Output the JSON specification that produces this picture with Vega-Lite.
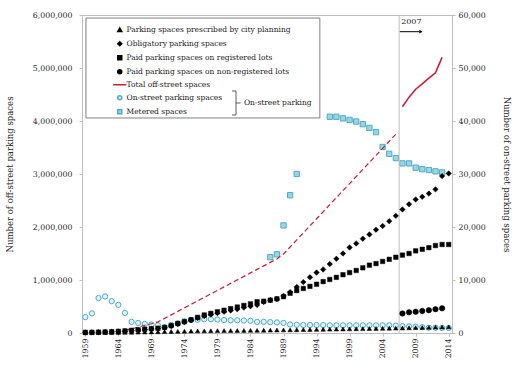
{
  "$schema": "https://vega.github.io/schema/vega-lite/v6.json",
  "width": 370,
  "height": 318,
  "autosize": {"type": "none"},
  "padding": {"left": 82, "top": 15, "right": 63, "bottom": 34},
  "background": "white",
  "config": {
    "font": "DejaVu Serif",
    "view": {"stroke": "#BFBFBF", "strokeWidth": 1},
    "axis": {"grid": false, "labelFont": "DejaVu Serif", "labelFontSize": 7.8, "labelColor": "#262626", "titleFont": "DejaVu Serif", "titleFontSize": 8.5, "titleFontWeight": "normal", "titleColor": "#262626", "domainColor": "#BFBFBF", "tickColor": "#BFBFBF", "tickSize": 3, "labelOverlap": false},
    "legend": {"orient": "none", "legendX": 34, "legendY": 11, "padding": 0, "rowPadding": 3, "labelFont": "DejaVu Serif", "labelFontSize": 7.5, "labelColor": "#1a1a1a", "labelOffset": 3, "symbolSize": 16, "labelLimit": 300}
  },
  "data": {"values": [
    {"year":1959,"prescribed":5000,"obligatory":10000,"registered":12000,"onstreet":3000},
    {"year":1960,"prescribed":6000,"obligatory":12000,"registered":14000,"onstreet":3700},
    {"year":1961,"prescribed":7000,"obligatory":15000,"registered":17000,"onstreet":6600},
    {"year":1962,"prescribed":8000,"obligatory":18000,"registered":20000,"onstreet":6900},
    {"year":1963,"prescribed":9000,"obligatory":22000,"registered":25000,"onstreet":6000},
    {"year":1964,"prescribed":10000,"obligatory":28000,"registered":32000,"onstreet":5300},
    {"year":1965,"prescribed":12000,"obligatory":35000,"registered":40000,"total":50000,"onstreet":3800},
    {"year":1966,"prescribed":14000,"obligatory":45000,"registered":50000,"total":80000,"onstreet":2100},
    {"year":1967,"prescribed":16000,"obligatory":55000,"registered":60000,"total":110000,"onstreet":1900},
    {"year":1968,"prescribed":18000,"obligatory":65000,"registered":70000,"total":145000,"onstreet":1700},
    {"year":1969,"prescribed":20000,"obligatory":75000,"registered":80000,"total":175000,"onstreet":1600},
    {"year":1970,"prescribed":22000,"obligatory":85000,"registered":90000,"total":210000,"onstreet":1450},
    {"year":1971,"prescribed":25000,"obligatory":100000,"registered":105000,"total":276000,"onstreet":1100},
    {"year":1972,"prescribed":28000,"obligatory":130000,"registered":140000,"total":342000,"onstreet":1500},
    {"year":1973,"prescribed":31000,"obligatory":170000,"registered":180000,"total":408000,"onstreet":1800},
    {"year":1974,"prescribed":34000,"obligatory":205000,"registered":215000,"total":474000,"onstreet":2200},
    {"year":1975,"prescribed":37000,"obligatory":240000,"registered":250000,"total":540000,"onstreet":2450},
    {"year":1976,"prescribed":39000,"obligatory":285000,"registered":295000,"total":606000,"onstreet":2500},
    {"year":1977,"prescribed":41000,"obligatory":320000,"registered":340000,"total":672000,"onstreet":2600},
    {"year":1978,"prescribed":43000,"obligatory":350000,"registered":370000,"total":738000,"onstreet":2600},
    {"year":1979,"prescribed":44000,"obligatory":375000,"registered":400000,"total":804000,"onstreet":2550},
    {"year":1980,"prescribed":45000,"obligatory":400000,"registered":430000,"total":870000,"onstreet":2450},
    {"year":1981,"prescribed":46000,"obligatory":425000,"registered":460000,"total":936000,"onstreet":2400},
    {"year":1982,"prescribed":47000,"obligatory":450000,"registered":490000,"total":1002000,"onstreet":2400},
    {"year":1983,"prescribed":48000,"obligatory":480000,"registered":520000,"total":1068000,"onstreet":2350},
    {"year":1984,"prescribed":49000,"obligatory":505000,"registered":550000,"total":1134000,"onstreet":2300},
    {"year":1985,"prescribed":50000,"obligatory":530000,"registered":590000,"total":1200000,"onstreet":2100},
    {"year":1986,"prescribed":52000,"obligatory":585000,"registered":600000,"total":1266000,"onstreet":2100},
    {"year":1987,"prescribed":54000,"obligatory":620000,"registered":620000,"total":1332000,"onstreet":2050,"metered":14300},
    {"year":1988,"prescribed":56000,"obligatory":640000,"registered":645000,"total":1398000,"onstreet":2000,"metered":14850},
    {"year":1989,"prescribed":58000,"obligatory":700000,"registered":685000,"total":1490000,"onstreet":1900,"metered":20300},
    {"year":1990,"prescribed":60000,"obligatory":770000,"registered":750000,"total":1623000,"onstreet":1600,"metered":26000},
    {"year":1991,"prescribed":62000,"obligatory":870000,"registered":800000,"total":1756000,"onstreet":1550,"metered":30000},
    {"year":1992,"prescribed":64000,"obligatory":960000,"registered":840000,"total":1889000,"onstreet":1500},
    {"year":1993,"prescribed":66000,"obligatory":1050000,"registered":880000,"total":2022000,"onstreet":1500},
    {"year":1994,"prescribed":68000,"obligatory":1140000,"registered":920000,"total":2155000,"onstreet":1500},
    {"year":1995,"prescribed":70000,"obligatory":1200000,"registered":970000,"total":2288000,"onstreet":1500},
    {"year":1996,"prescribed":72000,"obligatory":1300000,"registered":1010000,"total":2421000,"onstreet":1450,"metered":40800},
    {"year":1997,"prescribed":74000,"obligatory":1400000,"registered":1050000,"total":2554000,"onstreet":1450,"metered":40800},
    {"year":1998,"prescribed":76000,"obligatory":1500000,"registered":1100000,"total":2687000,"onstreet":1450,"metered":40500},
    {"year":1999,"prescribed":78000,"obligatory":1615000,"registered":1140000,"total":2820000,"onstreet":1450,"metered":40200},
    {"year":2000,"prescribed":80000,"obligatory":1690000,"registered":1180000,"total":2953000,"onstreet":1450,"metered":39900},
    {"year":2001,"prescribed":82000,"obligatory":1780000,"registered":1230000,"total":3086000,"onstreet":1450,"metered":39400},
    {"year":2002,"prescribed":84000,"obligatory":1860000,"registered":1280000,"total":3219000,"onstreet":1450,"metered":38700},
    {"year":2003,"prescribed":86000,"obligatory":1950000,"registered":1310000,"total":3352000,"onstreet":1450,"metered":37900},
    {"year":2004,"prescribed":88000,"obligatory":2020000,"registered":1350000,"total":3485000,"onstreet":1450,"metered":35100},
    {"year":2005,"prescribed":90000,"obligatory":2110000,"registered":1390000,"total":3618000,"onstreet":1450,"metered":33800},
    {"year":2006,"prescribed":92000,"obligatory":2210000,"registered":1430000,"total":3750000,"onstreet":1400,"metered":33000},
    {"year":2007,"prescribed":95000,"obligatory":2330000,"registered":1470000,"nonregistered":370000,"total":4270000,"onstreet":1300,"metered":32000},
    {"year":2008,"prescribed":98000,"obligatory":2430000,"registered":1500000,"nonregistered":390000,"total":4450000,"onstreet":1250,"metered":32000},
    {"year":2009,"prescribed":101000,"obligatory":2520000,"registered":1550000,"nonregistered":400000,"total":4600000,"onstreet":1200,"metered":31200},
    {"year":2010,"prescribed":104000,"obligatory":2570000,"registered":1580000,"nonregistered":415000,"total":4700000,"onstreet":1100,"metered":30900},
    {"year":2011,"prescribed":107000,"obligatory":2630000,"registered":1610000,"nonregistered":430000,"total":4810000,"onstreet":1000,"metered":30750},
    {"year":2012,"prescribed":110000,"obligatory":2710000,"registered":1650000,"nonregistered":450000,"total":4910000,"onstreet":1000,"metered":30500},
    {"year":2013,"prescribed":113000,"obligatory":2960000,"registered":1670000,"nonregistered":465000,"total":5200000,"onstreet":950,"metered":30300},
    {"year":2014,"prescribed":116000,"obligatory":3010000,"registered":1670000,"onstreet":950}
  ]},
  "layer": [
    {
      "layer": [
        {
          "transform": [{"fold": ["onstreet", "metered"], "as": ["series", "value"]}, {"filter": "isValid(datum.value)"}],
          "mark": {"type": "point", "opacity": 1, "strokeWidth": 1, "size": 28},
          "encoding": {
            "x": {"field": "year", "type": "quantitative", "scale": {"domain": [1958.5, 2014.5], "nice": false, "zero": false}, "axis": {"values": [1959,1964,1969,1974,1979,1984,1989,1994,1999,2004,2009,2014], "format": "d", "labelAngle": -90, "title": null, "labelPadding": 2, "labelOverlap": false}},
            "y": {"field": "value", "type": "quantitative", "scale": {"domain": [0, 60000], "nice": false}, "axis": {"orient": "right", "values": [0,10000,20000,30000,40000,50000,60000], "format": ",d", "title": "Number of on-street parking spaces", "labelPadding": 3, "titlePadding": 16}},
            "shape": {"field": "series", "type": "nominal", "title": null, "scale": {"domain": ["prescribed","obligatory","registered","nonregistered","total","onstreet","metered"], "range": ["triangle-up","diamond","square","circle","M-3.3,0H3.3","circle","square"]}},
            "fill": {"field": "series", "type": "nominal", "title": null, "scale": {"domain": ["prescribed","obligatory","registered","nonregistered","total","onstreet","metered"], "range": ["#000000","#000000","#000000","#000000","transparent","#E4F1F5","#9ED3DF"]}},
            "stroke": {"field": "series", "type": "nominal", "title": null, "scale": {"domain": ["prescribed","obligatory","registered","nonregistered","total","onstreet","metered"], "range": ["#000000","#000000","#000000","#000000","#C8203A","#4BACC6","#4BACC6"]},
              "legend": {"labelExpr": "{'prescribed':'Parking spaces prescribed by city planning','obligatory':'Obligatory parking spaces','registered':'Paid parking spaces on registered lots','nonregistered':'Paid parking spaces on non-registered lots','total':'Total off-street spaces','onstreet':'On-street parking spaces','metered':'Metered spaces'}[datum.label]",
                "encoding": {"symbols": {"update": {"strokeWidth": {"signal": "datum.value === 'total' ? 2 : 1"}, "opacity": {"value": 1}}}}}}
          }
        }
      ]
    },
    {
      "layer": [
        {
          "data": {"values": [{}]},
          "mark": {"type": "rect", "fill": "white", "stroke": "#808080", "strokeWidth": 1},
          "encoding": {
            "x": {"datum": 1959.1, "type": "quantitative", "axis": {"values": [1959,1964,1969,1974,1979,1984,1989,1994,1999,2004,2009,2014], "format": "d", "labelAngle": -90, "title": null, "labelPadding": 2, "labelOverlap": false}},
            "x2": {"datum": 1994.5},
            "y": {"datum": 5943000, "type": "quantitative"},
            "y2": {"datum": 4057000}
          }
        },
        {
          "data": {"values": [{}]},
          "mark": {"type": "rule", "stroke": "#BFBFBF", "strokeWidth": 1},
          "encoding": {"x": {"datum": 2006.5, "type": "quantitative", "axis": {"values": [1959,1964,1969,1974,1979,1984,1989,1994,1999,2004,2009,2014], "format": "d", "labelAngle": -90, "title": null, "labelPadding": 2, "labelOverlap": false}}}
        },
        {
          "data": {"values": [{}]},
          "mark": {"type": "rule", "stroke": "#000000", "strokeWidth": 1},
          "encoding": {"x": {"datum": 2006.6, "type": "quantitative", "axis": {"values": [1959,1964,1969,1974,1979,1984,1989,1994,1999,2004,2009,2014], "format": "d", "labelAngle": -90, "title": null, "labelPadding": 2, "labelOverlap": false}}, "x2": {"datum": 2009.6}, "y": {"datum": 5685000, "type": "quantitative"}}
        },
        {
          "data": {"values": [{}]},
          "mark": {"type": "point", "shape": "triangle-right", "filled": true, "fill": "#000000", "opacity": 1, "size": 14},
          "encoding": {"x": {"datum": 2009.8, "type": "quantitative", "axis": {"values": [1959,1964,1969,1974,1979,1984,1989,1994,1999,2004,2009,2014], "format": "d", "labelAngle": -90, "title": null, "labelPadding": 2, "labelOverlap": false}}, "y": {"datum": 5685000, "type": "quantitative"}}
        },
        {
          "data": {"values": [{}]},
          "mark": {"type": "text", "text": "2007", "align": "left", "baseline": "middle", "fontSize": 8, "font": "DejaVu Serif", "color": "#1a1a1a"},
          "encoding": {"x": {"datum": 2006.8, "type": "quantitative", "axis": {"values": [1959,1964,1969,1974,1979,1984,1989,1994,1999,2004,2009,2014], "format": "d", "labelAngle": -90, "title": null, "labelPadding": 2, "labelOverlap": false}}, "y": {"datum": 5862000, "type": "quantitative"}}
        },
        {
          "data": {"values": [{}]},
          "mark": {"type": "rule", "stroke": "#333333", "strokeWidth": 0.8},
          "encoding": {"x": {"datum": 1981.2, "type": "quantitative", "axis": {"values": [1959,1964,1969,1974,1979,1984,1989,1994,1999,2004,2009,2014], "format": "d", "labelAngle": -90, "title": null, "labelPadding": 2, "labelOverlap": false}}, "x2": {"datum": 1981.81}, "y": {"datum": 4566000, "type": "quantitative"}}
        },
        {
          "data": {"values": [{}]},
          "mark": {"type": "rule", "stroke": "#333333", "strokeWidth": 0.8},
          "encoding": {"x": {"datum": 1981.81, "type": "quantitative", "axis": {"values": [1959,1964,1969,1974,1979,1984,1989,1994,1999,2004,2009,2014], "format": "d", "labelAngle": -90, "title": null, "labelPadding": 2, "labelOverlap": false}}, "y": {"datum": 4566000, "type": "quantitative"}, "y2": {"datum": 4113000}}
        },
        {
          "data": {"values": [{}]},
          "mark": {"type": "rule", "stroke": "#333333", "strokeWidth": 0.8},
          "encoding": {"x": {"datum": 1981.2, "type": "quantitative", "axis": {"values": [1959,1964,1969,1974,1979,1984,1989,1994,1999,2004,2009,2014], "format": "d", "labelAngle": -90, "title": null, "labelPadding": 2, "labelOverlap": false}}, "x2": {"datum": 1981.81}, "y": {"datum": 4113000, "type": "quantitative"}}
        },
        {
          "data": {"values": [{}]},
          "mark": {"type": "rule", "stroke": "#333333", "strokeWidth": 0.8},
          "encoding": {"x": {"datum": 1981.81, "type": "quantitative", "axis": {"values": [1959,1964,1969,1974,1979,1984,1989,1994,1999,2004,2009,2014], "format": "d", "labelAngle": -90, "title": null, "labelPadding": 2, "labelOverlap": false}}, "x2": {"datum": 1982.5}, "y": {"datum": 4340000, "type": "quantitative"}}
        },
        {
          "data": {"values": [{}]},
          "mark": {"type": "text", "text": "On-street parking", "align": "left", "baseline": "middle", "fontSize": 7.5, "font": "DejaVu Serif", "color": "#1a1a1a"},
          "encoding": {"x": {"datum": 1983.0, "type": "quantitative", "axis": {"values": [1959,1964,1969,1974,1979,1984,1989,1994,1999,2004,2009,2014], "format": "d", "labelAngle": -90, "title": null, "labelPadding": 2, "labelOverlap": false}}, "y": {"datum": 4340000, "type": "quantitative"}}
        },
        {
          "transform": [{"fold": ["total"], "as": ["series", "value"]}, {"filter": "isValid(datum.value) && datum.year <= 2006"}],
          "mark": {"type": "line", "strokeWidth": 1.2, "strokeDash": [5, 3]},
          "encoding": {
            "x": {"field": "year", "type": "quantitative", "axis": {"values": [1959,1964,1969,1974,1979,1984,1989,1994,1999,2004,2009,2014], "format": "d", "labelAngle": -90, "title": null, "labelPadding": 2, "labelOverlap": false}},
            "y": {"field": "value", "type": "quantitative", "scale": {"domain": [0, 6000000], "nice": false}, "axis": {"orient": "left", "values": [0,1000000,2000000,3000000,4000000,5000000,6000000], "format": ",d", "title": "Number of off-street parking spaces", "labelPadding": 7, "titlePadding": 18}},
            "stroke": {"field": "series", "type": "nominal", "title": null}
          }
        },
        {
          "transform": [{"fold": ["total"], "as": ["series", "value"]}, {"filter": "isValid(datum.value) && datum.year >= 2007"}],
          "mark": {"type": "line", "strokeWidth": 1.6},
          "encoding": {
            "x": {"field": "year", "type": "quantitative", "axis": {"values": [1959,1964,1969,1974,1979,1984,1989,1994,1999,2004,2009,2014], "format": "d", "labelAngle": -90, "title": null, "labelPadding": 2, "labelOverlap": false}},
            "y": {"field": "value", "type": "quantitative"},
            "stroke": {"field": "series", "type": "nominal", "title": null}
          }
        },
        {
          "transform": [{"fold": ["prescribed", "registered"], "as": ["series", "value"]}, {"filter": "isValid(datum.value)"}],
          "mark": {"type": "point", "opacity": 1, "strokeWidth": 0.5, "size": 20},
          "encoding": {
            "x": {"field": "year", "type": "quantitative", "axis": {"values": [1959,1964,1969,1974,1979,1984,1989,1994,1999,2004,2009,2014], "format": "d", "labelAngle": -90, "title": null, "labelPadding": 2, "labelOverlap": false}},
            "y": {"field": "value", "type": "quantitative"},
            "shape": {"field": "series", "type": "nominal", "title": null},
            "fill": {"field": "series", "type": "nominal", "title": null},
            "stroke": {"field": "series", "type": "nominal", "title": null}
          }
        },
        {
          "transform": [{"fold": ["obligatory", "nonregistered"], "as": ["series", "value"]}, {"filter": "isValid(datum.value)"}],
          "mark": {"type": "point", "opacity": 1, "strokeWidth": 0.5, "size": 30},
          "encoding": {
            "x": {"field": "year", "type": "quantitative", "axis": {"values": [1959,1964,1969,1974,1979,1984,1989,1994,1999,2004,2009,2014], "format": "d", "labelAngle": -90, "title": null, "labelPadding": 2, "labelOverlap": false}},
            "y": {"field": "value", "type": "quantitative"},
            "shape": {"field": "series", "type": "nominal", "title": null},
            "fill": {"field": "series", "type": "nominal", "title": null},
            "stroke": {"field": "series", "type": "nominal", "title": null}
          }
        }
      ]
    }
  ],
  "resolve": {"scale": {"y": "independent"}}
}
